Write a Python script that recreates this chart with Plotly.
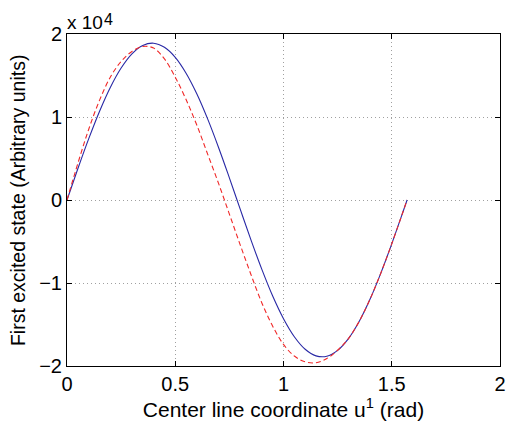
import plotly.graph_objects as go

# coordinates (rad)
u = [0.0, 0.05, 0.10, 0.15, 0.20, 0.25, 0.30, 0.35, 0.40, 0.45, 0.50, 0.55,
     0.60, 0.65, 0.70, 0.75, 0.80, 0.85, 0.90, 0.95, 1.00, 1.05, 1.10, 1.15,
     1.20, 1.25, 1.30, 1.35, 1.40, 1.45, 1.50, 1.55, 1.5708]

# values in units of 1e4
blue_vals = [0.0, 0.376, 0.736, 1.067, 1.356, 1.590, 1.761, 1.862, 1.889, 1.840,
             1.719, 1.528, 1.277, 0.974, 0.633, 0.267, -0.110, -0.483, -0.836,
             -1.157, -1.430, -1.647, -1.798, -1.878, -1.883, -1.812, -1.670,
             -1.461, -1.193, -0.878, -0.528, -0.157, 0.0]
red_vals = [0.0, 0.44, 0.85, 1.20, 1.48, 1.67, 1.79, 1.85, 1.83, 1.70,
            1.48, 1.21, 0.90, 0.55, 0.20, -0.17, -0.54, -0.90, -1.24,
            -1.52, -1.74, -1.88, -1.95, -1.96, -1.91, -1.81, -1.670,
            -1.461, -1.193, -0.878, -0.528, -0.157, 0.0]

scale = 1e4
x_ticks = [0, 0.5, 1, 1.5, 2]
x_ticklabels = ["0", "0.5", "1", "1.5", "2"]
y_ticks = [-2, -1, 0, 1, 2]
y_ticklabels = ["\u22122", "\u22121", "0", "1", "2"]

FONT = "Liberation Sans, Arial, Helvetica, sans-serif"

fig = go.Figure()
fig.add_trace(go.Scatter(x=u, y=[v * scale for v in blue_vals], mode="lines",
                         line=dict(color="rgb(40,40,165)", width=1.1, shape="spline"),
                         showlegend=False))
fig.add_trace(go.Scatter(x=u, y=[v * scale for v in red_vals], mode="lines",
                         line=dict(color="rgb(240,40,40)", width=1.1, dash="5px,3px", shape="spline"),
                         showlegend=False))

axis_common = dict(showline=True, linecolor="black", linewidth=1, mirror="allticks",
                   ticks="inside", ticklen=5, tickcolor="black", automargin=False,
                   showgrid=True, gridcolor="rgb(160,160,160)", griddash="1px,3px", gridwidth=1,
                   zeroline=False, tickfont=dict(family=FONT, size=20, color="black"))

fig.update_xaxes(range=[0, 2], tickvals=x_ticks, ticktext=x_ticklabels,
                 title=dict(text="Center line coordinate u<sup>1</sup> (rad)",
                            font=dict(family=FONT, size=21, color="black"), standoff=0),
                 **axis_common)
fig.update_yaxes(range=[-2 * scale, 2 * scale], tickvals=[t * scale for t in y_ticks],
                 ticktext=y_ticklabels, **axis_common)

# y-axis title placed further left, as in the reference
fig.add_annotation(text="First excited state (Arbitrary units)", xref="paper", yref="paper",
                   x=-0.113, y=0.5, xanchor="center", yanchor="middle", textangle=-90,
                   showarrow=False, font=dict(family=FONT, size=19.5, color="black"))

fig.add_annotation(text="x 10", xref="paper", yref="paper", x=0.0, y=1.0,
                   xanchor="left", yanchor="bottom", showarrow=False, xshift=-2, yshift=-1,
                   font=dict(family=FONT, size=19, color="black"))
fig.add_annotation(text="4", xref="paper", yref="paper", x=0.0, y=1.0,
                   xanchor="left", yanchor="bottom", showarrow=False, xshift=35, yshift=4,
                   font=dict(family=FONT, size=16, color="black"))

# page body has an 8px margin; size the figure so the plot area lands where the reference has it
fig.update_layout(width=509, height=415, paper_bgcolor="white", plot_bgcolor="white",
                  margin=dict(l=59, r=17, t=26, b=57), font=dict(family=FONT))

fig.write_html("out.html")
